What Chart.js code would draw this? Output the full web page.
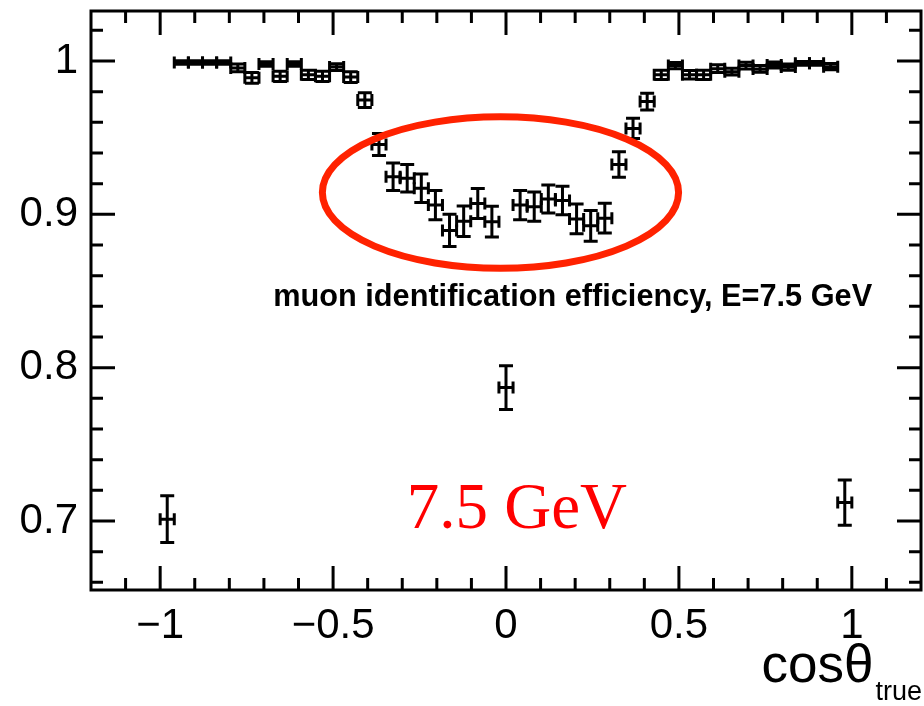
<!DOCTYPE html>
<html>
<head>
<meta charset="utf-8">
<script src="https://cdn.jsdelivr.net/npm/chart.js@4.4.0/dist/chart.umd.min.js"></script>
<style>
  html, body { margin: 0; padding: 0; background: #fff; }
  #wrap { width: 924px; height: 706px; }
</style>
</head>
<body>
<div id="wrap"><canvas id="effChart" width="924" height="706"></canvas></div>
<script>
// ---- data: muon ID efficiency vs cos(theta_true), 49 bins over [-1, 1] ----
const binCentres = [
  -0.9796, -0.9388, -0.8980, -0.8571, -0.8163, -0.7755, -0.7347, -0.6939, -0.6531, -0.6122,
  -0.5714, -0.5306, -0.4898, -0.4490, -0.4082, -0.3673, -0.3265, -0.2857, -0.2449, -0.2041,
  -0.1633, -0.1224, -0.0816, -0.0408,  0.0000,  0.0408,  0.0816,  0.1224,  0.1633,  0.2041,
   0.2449,  0.2857,  0.3265,  0.3673,  0.4082,  0.4490,  0.4898,  0.5306,  0.5714,  0.6122,
   0.6531,  0.6939,  0.7347,  0.7755,  0.8163,  0.8571,  0.8980,  0.9388,  0.9796
];
const binHalfWidth = 0.0204;
const efficiency = [
  0.7012, 0.9990, 0.9990, 0.9990, 0.9990, 0.9955, 0.9890, 0.9980, 0.9900, 0.9980,
  0.9910, 0.9900, 0.9960, 0.9895, 0.9745, 0.9455, 0.9245, 0.9235, 0.9170, 0.9060,
  0.8895, 0.8955, 0.9070, 0.8952, 0.7870, 0.9060, 0.9050, 0.9100, 0.9090, 0.8970,
  0.8925, 0.8975, 0.9325, 0.9560, 0.9735, 0.9910, 0.9970, 0.9910, 0.9910, 0.9950,
  0.9930, 0.9970, 0.9948, 0.9974, 0.9960, 0.9985, 0.9985, 0.9963, 0.7120
];
const efficiencyErr = [
  0.0152, 0.0012, 0.0012, 0.0012, 0.0012, 0.0025, 0.0035, 0.0015, 0.0033, 0.0015,
  0.0030, 0.0033, 0.0022, 0.0035, 0.0048, 0.0072, 0.0090, 0.0090, 0.0093, 0.0095,
  0.0105, 0.0100, 0.0098, 0.0100, 0.0143, 0.0095, 0.0095, 0.0092, 0.0093, 0.0097,
  0.0100, 0.0097, 0.0083, 0.0066, 0.0055, 0.0030, 0.0020, 0.0028, 0.0030, 0.0025,
  0.0022, 0.0022, 0.0022, 0.0020, 0.0020, 0.0012, 0.0012, 0.0020, 0.0147
];

// ---- axis ticks ----
const xMajorTicks = [-1, -0.5, 0, 0.5, 1];
const xMinorTicks = [-1.1, -0.9, -0.8, -0.7, -0.6, -0.4, -0.3, -0.2, -0.1,
                     0.1, 0.2, 0.3, 0.4, 0.6, 0.7, 0.8, 0.9, 1.1];
const yMajorTicks = [0.7, 0.8, 0.9, 1.0];
const yMinorTicks = [0.66, 0.68, 0.72, 0.74, 0.76, 0.78, 0.82, 0.84, 0.86, 0.88,
                     0.92, 0.94, 0.96, 0.98, 1.02];

const FONT = '"Liberation Sans", Arial, Helvetica, sans-serif';
const LW = 3;

function fmtTick(v) {
  const s = String(Math.round(v * 10) / 10);
  return s.replace('-', '\u2212');
}

// frame, inward ticks, error bars and annotations (ROOT-like look)
const rootStyle = {
  id: 'rootStyle',
  afterDatasetsDraw(chart) {
    const { ctx } = chart;
    const xs = chart.scales.x, ys = chart.scales.y;
    const meta = chart.getDatasetMeta(0);
    const cap = 7;
    ctx.save();
    ctx.strokeStyle = '#000';
    ctx.lineWidth = LW;
    ctx.lineCap = 'butt';
    meta.data.forEach((pt, i) => {
      const px = pt.x, py = pt.y;
      const xl = xs.getPixelForValue(binCentres[i] - binHalfWidth);
      const xr = xs.getPixelForValue(binCentres[i] + binHalfWidth);
      const yt = ys.getPixelForValue(efficiency[i] + efficiencyErr[i]);
      const yb = ys.getPixelForValue(efficiency[i] - efficiencyErr[i]);
      ctx.beginPath();
      // horizontal bar + end ticks
      ctx.moveTo(xl, py); ctx.lineTo(xr, py);
      ctx.moveTo(xl, py - cap + 1); ctx.lineTo(xl, py + cap - 1);
      ctx.moveTo(xr, py - cap + 1); ctx.lineTo(xr, py + cap - 1);
      // vertical bar + caps
      ctx.moveTo(px, yt); ctx.lineTo(px, yb);
      ctx.moveTo(px - cap, yt); ctx.lineTo(px + cap, yt);
      ctx.moveTo(px - cap, yb); ctx.lineTo(px + cap, yb);
      ctx.stroke();
    });
    ctx.restore();
  },
  afterDraw(chart) {
    const { ctx, chartArea: a } = chart;
    const xs = chart.scales.x, ys = chart.scales.y;
    ctx.save();
    ctx.strokeStyle = '#000';
    ctx.lineWidth = LW;
    ctx.strokeRect(a.left, a.top, a.right - a.left, a.bottom - a.top);

    const majorLen = 24, minorLen = 12;
    ctx.beginPath();
    const xTick = (v, len) => {
      const p = xs.getPixelForValue(v);
      ctx.moveTo(p, a.bottom); ctx.lineTo(p, a.bottom - len);
      ctx.moveTo(p, a.top); ctx.lineTo(p, a.top + len);
    };
    const yTick = (v, len) => {
      const p = ys.getPixelForValue(v);
      ctx.moveTo(a.left, p); ctx.lineTo(a.left + len, p);
      ctx.moveTo(a.right, p); ctx.lineTo(a.right - len, p);
    };
    xMajorTicks.forEach(v => xTick(v, majorLen));
    xMinorTicks.forEach(v => xTick(v, minorLen));
    yMajorTicks.forEach(v => yTick(v, majorLen));
    yMinorTicks.forEach(v => yTick(v, minorLen));
    ctx.stroke();

    // red ellipse around the central dip
    const cx = xs.getPixelForValue(-0.016), cy = ys.getPixelForValue(0.9142);
    const rx = xs.getPixelForValue(-0.016 + 0.515) - cx;
    const ry = cy - ys.getPixelForValue(0.9142 + 0.0494);
    ctx.beginPath();
    ctx.ellipse(cx, cy, rx, ry, 0, 0, Math.PI * 2);
    ctx.strokeStyle = '#ff2200';
    ctx.lineWidth = 7;
    ctx.stroke();

    // labels
    ctx.fillStyle = '#000';
    ctx.textBaseline = 'alphabetic';
    ctx.textAlign = 'left';
    ctx.font = 'bold 30.7px ' + FONT;
    ctx.fillText('muon identification efficiency, E=7.5 GeV',
                 xs.getPixelForValue(-0.673), ys.getPixelForValue(0.840));

    ctx.fillStyle = '#ff0000';
    ctx.font = '65px "Liberation Serif", "Times New Roman", serif';
    ctx.fillText('7.5 GeV', xs.getPixelForValue(-0.287), ys.getPixelForValue(0.6954));

    // x axis title: cos(theta) with "true" subscript, right aligned
    ctx.fillStyle = '#000';
    const main = 'cos\u03b8';
    ctx.font = '27px ' + FONT;
    const subW = ctx.measureText('true').width;
    ctx.font = '53px ' + FONT;
    const mainW = ctx.measureText(main).width;
    const xEnd = 922;
    ctx.fillText(main, xEnd - subW - mainW - 2, 682);
    ctx.font = '27px ' + FONT;
    ctx.fillText('true', xEnd - subW, 700);
    ctx.restore();
  }
};

const ctx = document.getElementById('effChart');
const effChart = new Chart(ctx, {
  type: 'scatter',
  data: {
    datasets: [{
      data: binCentres.map((x, i) => ({ x: x, y: efficiency[i] })),
      pointRadius: 0,
      pointHoverRadius: 0,
      showLine: false
    }]
  },
  options: {
    responsive: false,
    animation: false,
    devicePixelRatio: 1,
    layout: { padding: { top: 11, right: 3, left: 0, bottom: 0 } },
    plugins: { legend: { display: false }, tooltip: { enabled: false } },
    scales: {
      x: {
        type: 'linear', min: -1.2, max: 1.2,
        grid: { display: false, drawTicks: false },
        border: { display: false },
        afterBuildTicks: s => { s.ticks = xMajorTicks.map(v => ({ value: v })); },
        afterFit: s => { s.height = 116; s.paddingLeft = 0; s.paddingRight = 0; },
        ticks: {
          font: { family: FONT, size: 42 }, color: '#000', padding: 11,
          maxRotation: 0, autoSkip: false, callback: v => fmtTick(v)
        }
      },
      y: {
        type: 'linear', min: 0.655, max: 1.0326,
        grid: { display: false, drawTicks: false },
        border: { display: false },
        afterBuildTicks: s => { s.ticks = yMajorTicks.map(v => ({ value: v })); },
        afterFit: s => { s.width = 91; s.paddingTop = 0; s.paddingBottom = 0; },
        ticks: {
          font: { family: FONT, size: 42 }, color: '#000', padding: 13,
          autoSkip: false, callback: v => fmtTick(v)
        }
      }
    }
  },
  plugins: [rootStyle]
});
</script>
</body>
</html>
